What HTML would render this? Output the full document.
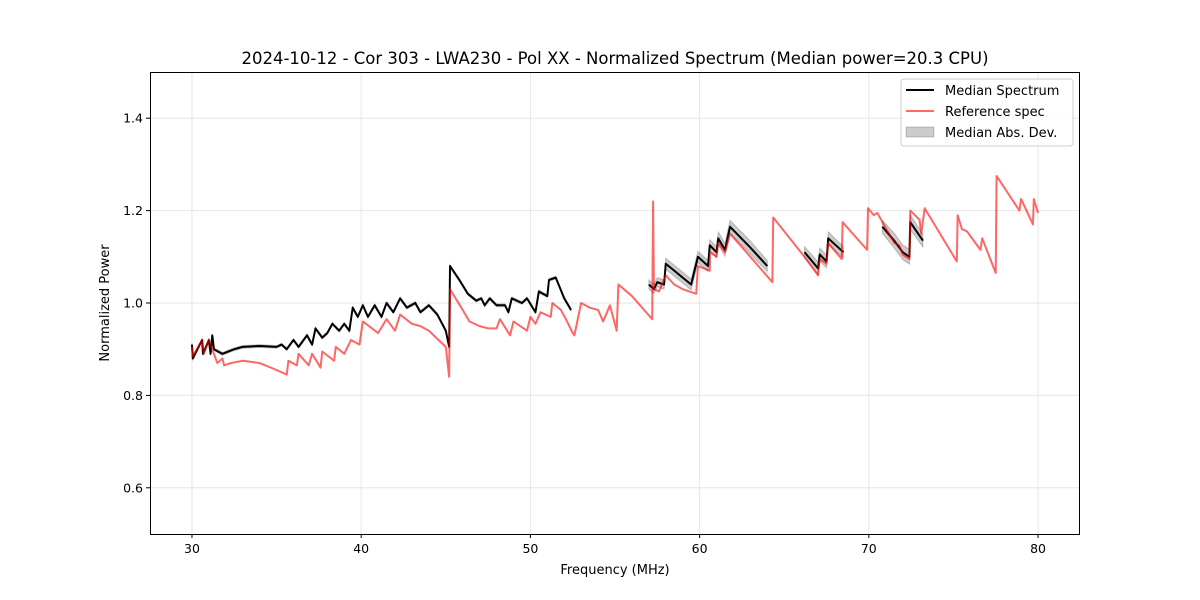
<!DOCTYPE html>
<html><head><meta charset="utf-8">
<style>
body{margin:0;background:#fff;}
svg{display:block;font-family:"DejaVu Sans","Liberation Sans",sans-serif;}
</style></head>
<body>
<svg id="chart" width="1200" height="600" viewBox="0 0 1200 600">
<rect width="1200" height="600" fill="#fff"/>
<text x="615" y="64" text-anchor="middle" font-size="16.5">2024-10-12 - Cor 303 - LWA230 - Pol XX - Normalized Spectrum (Median power=20.3 CPU)</text>
<g id="grid"></g>
<g id="marks"></g>
<rect x="150.5" y="72.5" width="929" height="462" fill="none" stroke="#000" stroke-width="1"/>
<g id="ticks"></g>
<text x="615" y="574" text-anchor="middle" font-size="13">Frequency (MHz)</text>
<text transform="translate(109,303) rotate(-90)" text-anchor="middle" font-size="13">Normalized Power</text>
<g>
<rect x="901" y="79" width="172" height="67" rx="3" fill="#fff" fill-opacity="0.8" stroke="#ccc"/>
<line x1="906" y1="90" x2="934" y2="90" stroke="#000" stroke-width="2"/>
<text x="945" y="95" font-size="13">Median Spectrum</text>
<line x1="906" y1="111" x2="934" y2="111" stroke="#ff6666" stroke-width="2"/>
<text x="945" y="116" font-size="13">Reference spec</text>
<rect x="906" y="127" width="28" height="10" fill="#000" fill-opacity="0.2" stroke="#000" stroke-opacity="0.2"/>
<text x="945" y="137" font-size="13">Median Abs. Dev.</text>
</g>
</svg>
<script>
const xTicks=[30,40,50,60,70,80];
const yTicks=[0.6,0.8,1.0,1.2,1.4];
const medF=[30,30.05,30.6,30.65,31,31.1,31.2,31.3,31.8,32.5,33,34,35,35.3,35.6,36,36.3,36.8,37.1,37.3,37.7,38,38.3,38.7,39,39.3,39.5,39.8,40.1,40.4,40.8,41.2,41.5,41.9,42.3,42.7,43.2,43.5,44,44.5,45,45.2,45.25,45.8,46.3,46.8,47.1,47.3,47.6,48,48.5,48.7,48.9,49.5,49.8,50.3,50.5,51,51.1,51.5,52,52.4,null,57,57.3,57.5,57.9,58,58.5,59,59.5,59.9,60.5,60.6,61,61.1,61.5,61.8,63,64,null,66.2,67,67.1,67.5,67.6,68.5,null,70.8,71.5,72,72.4,72.45,73.2];
const medV=[0.91,0.88,0.92,0.89,0.92,0.89,0.93,0.9,0.89,0.9,0.905,0.907,0.905,0.91,0.9,0.92,0.905,0.93,0.91,0.945,0.925,0.935,0.955,0.94,0.955,0.94,0.99,0.97,0.995,0.97,0.995,0.97,1.0,0.98,1.01,0.99,1.0,0.98,0.995,0.975,0.94,0.905,1.08,1.05,1.02,1.005,1.01,0.995,1.01,0.995,0.995,0.98,1.01,1.0,1.01,0.98,1.025,1.015,1.05,1.055,1.01,0.985,null,1.04,1.03,1.045,1.04,1.085,1.07,1.055,1.04,1.1,1.08,1.125,1.11,1.14,1.115,1.165,1.12,1.08,null,1.11,1.075,1.105,1.09,1.14,1.11,null,1.165,1.135,1.11,1.1,1.175,1.135];
const madV=[0.003,0.003,0.003,0.003,0.003,0.003,0.003,0.003,0.003,0.003,0.003,0.003,0.003,0.003,0.003,0.003,0.003,0.003,0.003,0.003,0.003,0.003,0.003,0.003,0.003,0.003,0.003,0.003,0.003,0.003,0.003,0.003,0.003,0.003,0.003,0.003,0.003,0.003,0.003,0.003,0.003,0.003,0.003,0.003,0.003,0.003,0.003,0.003,0.003,0.003,0.003,0.003,0.003,0.003,0.003,0.003,0.003,0.003,0.003,0.003,0.003,0.003,null,0.01,0.01,0.01,0.01,0.012,0.012,0.012,0.012,0.012,0.012,0.012,0.012,0.014,0.014,0.014,0.014,0.012,null,0.012,0.014,0.014,0.014,0.014,0.012,null,0.014,0.016,0.016,0.016,0.016,0.014];
const refF=[30,30.05,30.6,30.7,31,31.5,31.8,31.9,32.3,33,34,35,35.6,35.7,36.2,36.3,36.9,37.1,37.6,37.7,38.4,38.5,39,39.4,39.9,40.1,41,41.5,42,42.3,43,43.5,44,45,45.2,45.25,46,46.4,47,47.5,48,48.2,48.8,49,49.8,50,50.3,50.6,51.2,51.3,51.8,52.1,52.5,52.6,53,53.5,54,54.3,54.7,55.1,55.2,56,56.6,57.2,57.25,57.3,57.6,58,58.5,59,59.8,59.9,60.6,60.62,61,61.1,61.5,61.8,63,64.3,64.35,66.2,67,67.1,67.5,67.6,68.4,68.45,69.9,69.95,70.3,70.5,71.5,71.8,72,72.4,72.45,73,73.1,73.3,75.2,75.25,75.5,75.8,76.6,76.7,77.5,77.55,78.9,79,79.7,79.75,80];
const refV=[0.905,0.885,0.92,0.89,0.92,0.87,0.88,0.865,0.87,0.875,0.87,0.855,0.845,0.875,0.865,0.89,0.865,0.89,0.86,0.895,0.875,0.905,0.89,0.92,0.91,0.96,0.935,0.965,0.94,0.975,0.955,0.95,0.94,0.905,0.84,1.03,0.985,0.96,0.95,0.945,0.945,0.965,0.93,0.96,0.94,0.97,0.955,0.98,0.97,1.0,0.985,0.965,0.935,0.93,1.0,0.99,0.985,0.96,0.995,0.94,1.04,1.015,0.99,0.965,1.22,1.03,1.025,1.06,1.04,1.03,1.02,1.08,1.07,1.11,1.1,1.13,1.11,1.15,1.1,1.045,1.185,1.1,1.06,1.095,1.085,1.13,1.095,1.175,1.115,1.205,1.19,1.195,1.13,1.125,1.105,1.095,1.2,1.18,1.15,1.205,1.09,1.19,1.16,1.155,1.115,1.14,1.065,1.275,1.2,1.225,1.17,1.225,1.195];
const X0=150,X1=1080,Y0=72,Y1=534,XMIN=27.52,XMAX=82.48,YMIN=0.5,YMAX=1.5;
const sx=f=>X0+(f-XMIN)/(XMAX-XMIN)*(X1-X0);
const sy=v=>Y1-(v-YMIN)/(YMAX-YMIN)*(Y1-Y0);
const NS="http://www.w3.org/2000/svg";
function mk(tag,attrs,parent){const e=document.createElementNS(NS,tag);for(const k in attrs)e.setAttribute(k,attrs[k]);parent.appendChild(e);return e;}
const grid=document.getElementById('grid'),marks=document.getElementById('marks'),ticks=document.getElementById('ticks');
xTicks.forEach(t=>{const x=sx(t);
 const g=mk('line',{x1:x,x2:x,y1:Y0,y2:Y1,stroke:'#e6e6e6','stroke-width':1},grid);
 
 
 mk('line',{x1:x,x2:x,y1:Y1,y2:Y1+4,stroke:'#000'},ticks);
 const tx=mk('text',{x:x,y:Y1+19,'text-anchor':'middle','font-size':12.5},ticks);tx.textContent=t;
 
 });
yTicks.forEach(t=>{const y=sy(t);
 const g=mk('line',{x1:X0,x2:X1,y1:y,y2:y,stroke:'#e6e6e6','stroke-width':1},grid);
 
 
 mk('line',{x1:X0-4,x2:X0,y1:y,y2:y,stroke:'#000'},ticks);
 const tx=mk('text',{x:X0-7,y:y+4.5,'text-anchor':'end','font-size':12.5},ticks);tx.textContent=t.toFixed(1);
 
 });
function segs(F){const out=[];let cur=[];F.forEach((f,i)=>{if(f===null){if(cur.length)out.push(cur);cur=[];}else cur.push(i);});if(cur.length)out.push(cur);return out;}
segs(medF).forEach(s=>{
 const up=s.map(i=>sx(medF[i])+','+sy(medV[i]+madV[i]));
 const dn=s.slice().reverse().map(i=>sx(medF[i])+','+sy(medV[i]-madV[i]));
 const p=mk('polygon',{points:up.concat(dn).join(' '),fill:'#000','fill-opacity':0.2,stroke:'#000','stroke-opacity':0.2},marks);
 
 });
segs(medF).forEach(s=>{
 const p=mk('polyline',{points:s.map(i=>sx(medF[i])+','+sy(medV[i])).join(' '),fill:'none',stroke:'#000','stroke-width':2,'stroke-linejoin':'round'},marks);
 
 });
const r=mk('polyline',{points:refF.map((f,i)=>sx(f)+','+sy(refV[i])).join(' '),fill:'none',stroke:'#ff0000','stroke-opacity':0.6,'stroke-width':2,'stroke-linejoin':'round'},marks);


</script>
</body></html>
